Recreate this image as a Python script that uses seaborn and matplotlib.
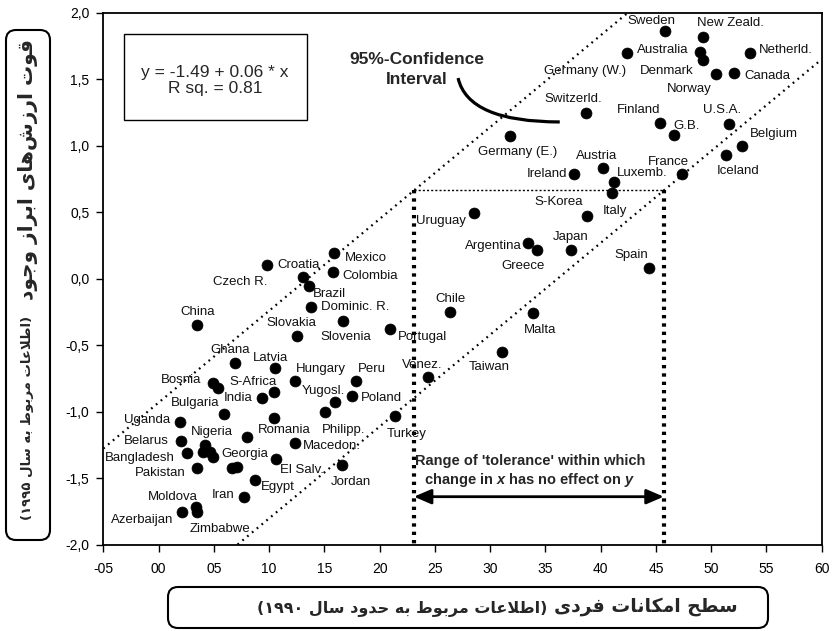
import re
import numpy as np
import pandas as pd
import matplotlib
matplotlib.use("Agg")
import matplotlib.pyplot as plt
import seaborn as sns
from matplotlib.patches import FancyBboxPatch, Rectangle, PathPatch
from matplotlib.path import Path

# ---------------- data ----------------
countries = ["Sweden", "New Zeald.", "Australia", "Germany (W.)", "Denmark", "Norway", "Canada",
             "Netherld.", "Switzerld.", "Finland", "G.B.", "U.S.A.", "Belgium", "Iceland", "France",
             "Germany (E.)", "Austria", "Ireland", "Luxemb.", "Italy", "S-Korea", "Uruguay",
             "Argentina", "Greece", "Japan", "Spain", "Chile", "Malta", "Taiwan", "Venez.",
             "Portugal", "Turkey", "Mexico", "Croatia", "Czech R.", "Colombia", "Brazil",
             "Dominic. R.", "China", "Slovakia", "Slovenia", "Ghana", "Latvia", "Hungary", "Peru",
             "Bosnia", "S-Africa", "Yugosl.", "India", "Poland", "Bulgaria", "Uganda", "Philipp.",
             "Romania", "Nigeria", "Georgia", "Belarus", "Macedon.", "Bangladesh", "Pakistan",
             "El Salv.", "Jordan", "Egypt", "Iran", "Azerbaijan", "Moldova", "Zimbabwe",
             "", "", "", "", "", ""]
x_values = [45.8, 49.3, 49.0, 42.4, 49.3, 50.4, 52.1,
            53.5, 38.7, 45.4, 46.6, 51.6, 52.8, 51.3, 47.4,
            31.8, 40.2, 37.6, 41.2, 41.0, 38.8, 28.5,
            33.4, 34.2, 37.3, 44.4, 26.4, 33.9, 31.1, 24.4,
            20.9, 21.4, 15.9, 9.8, 13.1, 15.8, 13.6,
            13.8, 3.5, 12.5, 16.7, 6.9, 10.5, 12.3, 17.9,
            4.95, 10.4, 16.0, 9.4, 17.5, 5.95, 1.94, 15.1,
            8.0, 4.2, 4.9, 2.0, 12.3, 2.55, 3.5,
            10.6, 16.6, 8.7, 7.7, 2.1, 3.4, 3.5,
            5.4, 10.4, 4.05, 4.66, 6.6, 7.1]
y_values = [1.86, 1.815, 1.707, 1.695, 1.645, 1.54, 1.545,
            1.695, 1.249, 1.174, 1.081, 1.164, 1.0, 0.931, 0.788,
            1.074, 0.835, 0.788, 0.73, 0.648, 0.473, 0.493,
            0.267, 0.217, 0.217, 0.08, -0.246, -0.258, -0.547, -0.735,
            -0.376, -1.028, 0.192, 0.104, 0.017, 0.054, -0.053,
            -0.213, -0.346, -0.429, -0.316, -0.63, -0.667, -0.765, -0.765,
            -0.78, -0.847, -0.923, -0.893, -0.88, -1.015, -1.073, -1.0,
            -1.186, -1.248, -1.34, -1.218, -1.235, -1.31, -1.423,
            -1.355, -1.398, -1.511, -1.636, -1.749, -1.711, -1.749,
            -0.822, -1.047, -1.298, -1.298, -1.423, -1.415]

x_ticks = [-5, 0, 5, 10, 15, 20, 25, 30, 35, 40, 45, 50, 55, 60]
x_tick_labels = ["-05", "00", "05", "10", "15", "20", "25", "30", "35", "40", "45", "50", "55", "60"]
y_ticks = [-2.0, -1.5, -1.0, -0.5, 0.0, 0.5, 1.0, 1.5, 2.0]
y_tick_labels = ["-2,0", "-1,5", "-1,0", "-0,5", "0,0", "0,5", "1,0", "1,5", "2,0"]

equation_text = "y = -1.49 + 0.06 * x\nR sq. = 0.81"
ci_text = "95%-Confidence\nInterval"
tolerance_text_1 = "Range of 'tolerance' within which"
tolerance_text_2 = "change in $x$ has no effect on $y$"
ci_slope = 0.069
ci_upper_intercept = -0.93
ci_lower_intercept = -2.49
tolerance_level = 0.664

y_title_main = "قوت ارزش\u200cهای ابراز وجود"
y_title_sub = "(اطلاعات مربوط به سال ۱۹۹۵)"
x_title_main = "سطح امکانات فردی"
x_title_sub = "(اطلاعات مربوط به حدود سال ۱۹۹۰)"

# label offsets (pixels, relative to the point)
label_offsets = {
    "Sweden": (-13, 10), "New Zeald.": (27, 14), "Australia": (-37, 2), "Germany (W.)": (-42, -18),
    "Denmark": (-37, -11), "Norway": (-26, -15), "Canada": (33, -3), "Netherld.": (36, 3),
    "Switzerld.": (-13, 14), "Finland": (-22, 13), "G.B.": (13, 9), "U.S.A.": (-7, 14),
    "Belgium": (32, 12), "Iceland": (13, -16), "France": (-14, 12), "Germany (E.)": (8, -16),
    "Austria": (-6, 12), "Ireland": (-27, 0), "Luxemb.": (28, 9), "Italy": (3, -18),
    "S-Korea": (-29, 14), "Uruguay": (-33, -8), "Argentina": (-34, -3), "Greece": (-13, -16),
    "Japan": (0, 13), "Spain": (-18, 13), "Chile": (0, 13), "Malta": (7, -17),
    "Taiwan": (-13, -15), "Venez.": (-6, 12), "Portugal": (33, -8), "Turkey": (12, -18),
    "Mexico": (32, -5), "Croatia": (32, 0), "Czech R.": (-63, -5), "Colombia": (37, -4),
    "Brazil": (21, -8), "Dominic. R.": (44, 0), "China": (0, 13), "Slovakia": (-5, 13),
    "Slovenia": (3, -16), "Ghana": (-5, 13), "Latvia": (-4, 10), "Hungary": (26, 12),
    "Peru": (15, 12), "Bosnia": (-32, 3), "S-Africa": (-20, 10), "Yugosl.": (-12, 11),
    "India": (-24, 0), "Poland": (29, -2), "Bulgaria": (-29, 11), "Uganda": (-33, 2),
    "Philipp.": (18, -18), "Romania": (37, 7), "Nigeria": (7, 13), "Georgia": (32, 3),
    "Belarus": (-34, 0), "Macedon.": (37, -3), "Bangladesh": (-47, -5), "Pakistan": (-37, -5),
    "El Salv.": (26, -11), "Jordan": (9, -17), "Egypt": (23, -7), "Iran": (-21, 2),
    "Azerbaijan": (-40, -8), "Moldova": (-23, 10), "Zimbabwe": (23, -17),
}

# ---------------- Persian shaping (matplotlib has no complex text layout) ----------------
FORMS = {
    '\u0627': ('\uFE8D', '\uFE8E', None, None),
    '\u0628': ('\uFE8F', '\uFE90', '\uFE91', '\uFE92'),
    '\u062A': ('\uFE95', '\uFE96', '\uFE97', '\uFE98'),
    '\u062C': ('\uFE9D', '\uFE9E', '\uFE9F', '\uFEA0'),
    '\u062D': ('\uFEA1', '\uFEA2', '\uFEA3', '\uFEA4'),
    '\u062F': ('\uFEA9', '\uFEAA', None, None),
    '\u0631': ('\uFEAD', '\uFEAE', None, None),
    '\u0632': ('\uFEAF', '\uFEB0', None, None),
    '\u0633': ('\uFEB1', '\uFEB2', '\uFEB3', '\uFEB4'),
    '\u0634': ('\uFEB5', '\uFEB6', '\uFEB7', '\uFEB8'),
    '\u0637': ('\uFEC1', '\uFEC2', '\uFEC3', '\uFEC4'),
    '\u0639': ('\uFEC9', '\uFECA', '\uFECB', '\uFECC'),
    '\u0641': ('\uFED1', '\uFED2', '\uFED3', '\uFED4'),
    '\u0642': ('\uFED5', '\uFED6', '\uFED7', '\uFED8'),
    '\u0644': ('\uFEDD', '\uFEDE', '\uFEDF', '\uFEE0'),
    '\u0645': ('\uFEE1', '\uFEE2', '\uFEE3', '\uFEE4'),
    '\u0646': ('\uFEE5', '\uFEE6', '\uFEE7', '\uFEE8'),
    '\u0647': ('\uFEE9', '\uFEEA', '\uFEEB', '\uFEEC'),
    '\u0648': ('\uFEED', '\uFEEE', None, None),
    '\u06CC': ('\uFBFC', '\uFBFD', '\uFBFE', '\uFBFF'),
    '\u06A9': ('\uFB8E', '\uFB8F', '\uFB90', '\uFB91'),
}


def shape_rtl(text):
    chars = list(text)
    n = len(chars)
    out = []

    def joins_next(c):
        return c in FORMS and FORMS[c][2] is not None

    i = 0
    while i < n:
        c = chars[i]
        if c == '\u200c':
            i += 1
            continue
        if c in FORMS:
            prev = chars[i - 1] if i > 0 else ''
            jp = joins_next(prev)
            if c == '\u0644' and i + 1 < n and chars[i + 1] == '\u0627':
                out.append('\uFEFC' if jp else '\uFEFB')
                i += 2
                continue
            nxt = chars[i + 1] if i + 1 < n else ''
            jn = joins_next(c) and nxt in FORMS
            iso, fin, ini, med = FORMS[c]
            if jp and jn:
                out.append(med)
            elif jp:
                out.append(fin)
            elif jn:
                out.append(ini)
            else:
                out.append(iso)
        else:
            out.append(c)
        i += 1
    s = ''.join(out)[::-1]
    s = re.sub(r'[0-9\u06F0-\u06F9]+', lambda m: m.group(0)[::-1], s)
    s = s.translate(str.maketrans('()', ')('))
    return s


# ---------------- style ----------------
sns.set_style("ticks")
plt.rcParams['font.family'] = ['Liberation Sans', 'DejaVu Sans']
plt.rcParams['mathtext.fontset'] = 'custom'
plt.rcParams['mathtext.it'] = 'Liberation Sans:italic:bold'
plt.rcParams['mathtext.rm'] = 'Liberation Sans:bold'

W, H = 832, 631
fig = plt.figure(figsize=(W / 100, H / 100), dpi=100)
fig.patch.set_facecolor('white')
ax_l, ax_r, ax_t, ax_b = 103.3, 821.7, 12.7, 545.0
ax = fig.add_axes([ax_l / W, (H - ax_b) / H, (ax_r - ax_l) / W, (ax_b - ax_t) / H])

df = pd.DataFrame({"country": countries, "x": x_values, "y": y_values})

# confidence lines
xs = np.array([-5.0, 60.0])
ax.plot(xs, ci_upper_intercept + ci_slope * xs, color='black', lw=1.6,
        linestyle=(0, (0.8, 2.0)), zorder=2)
ax.plot(xs, ci_lower_intercept + ci_slope * xs, color='black', lw=1.6,
        linestyle=(0, (0.8, 2.0)), zorder=2)

x_left = (tolerance_level - ci_upper_intercept) / ci_slope
x_right = (tolerance_level - ci_lower_intercept) / ci_slope
ax.plot([x_left, x_right], [tolerance_level, tolerance_level], color='black', lw=1.0,
        linestyle=(0, (1.5, 1.5)), zorder=2)
for xv in (x_left, x_right):
    ax.plot([xv, xv], [tolerance_level, -2.0], color='black', lw=3.0,
            linestyle=(0, (0.8, 1.2)), zorder=2, clip_on=False)

# points
sns.scatterplot(data=df, x="x", y="y", ax=ax, color='black', edgecolor='black',
                s=62, linewidth=0.5, legend=False, zorder=4)

for name, xv, yv in zip(countries, x_values, y_values):
    if not name:
        continue
    dx, dy = label_offsets[name]
    ax.annotate(name, (xv, yv), xytext=(dx, dy), textcoords='offset pixels',
                ha='center', va='center', fontsize=9.5, color='#111111', zorder=5)

# equation box
ax.add_patch(Rectangle((-3.1, 1.19), 16.5, 0.65, facecolor='white', edgecolor='black',
                       lw=1.0, zorder=3))
ax.text(5.1, 1.49, equation_text, ha='center', va='center', fontsize=12.5,
        linespacing=1.1, zorder=4)

# 95% confidence annotation
ax.text(23.4, 1.573, ci_text, ha='center', va='center', fontsize=12.5, fontweight='bold',
        linespacing=1.4, zorder=4)
curve = Path([(27.1, 1.509), (28.0, 1.179), (36.3, 1.179)],
             [Path.MOVETO, Path.CURVE3, Path.CURVE3])
ax.add_patch(PathPatch(curve, facecolor='none', edgecolor='black', lw=2.3, zorder=4))

# tolerance arrow and text
ax.annotate('', xy=(x_right, -1.637), xytext=(x_left, -1.637),
            arrowprops=dict(arrowstyle='<|-|>,head_length=0.7,head_width=0.3',
                            lw=2.0, color='black', mutation_scale=15,
                            shrinkA=0, shrinkB=0), zorder=4)
ax.text(33.6, -1.366, tolerance_text_1, ha='center', va='center', fontsize=10.5,
        fontweight='bold', zorder=4)
ax.text(33.6, -1.51, tolerance_text_2, ha='center', va='center', fontsize=10.5,
        fontweight='bold', zorder=4)

# axes
ax.set_xlim(-5, 60)
ax.set_ylim(-2, 2)
ax.set_xticks(x_ticks)
ax.set_xticklabels(x_tick_labels)
ax.set_yticks(y_ticks)
ax.set_yticklabels(y_tick_labels)
ax.set_xlabel('')
ax.set_ylabel('')
ax.tick_params(axis='x', direction='out', length=5, width=1, pad=7, labelsize=10,
               colors='black')
ax.tick_params(axis='y', direction='out', length=5, width=1, pad=5, labelsize=10,
               colors='black')
for sp in ax.spines.values():
    sp.set_visible(True)
    sp.set_linewidth(1.3)
    sp.set_color('black')

# axis title boxes (pixel -> inch coordinates)
def px_box(x0, y0, x1, y1, r):
    return FancyBboxPatch((x0 / 100, (H - y1) / 100), (x1 - x0) / 100, (y1 - y0) / 100,
                          boxstyle=f"round,pad=0,rounding_size={r / 100}",
                          transform=fig.dpi_scale_trans, facecolor='none',
                          edgecolor='black', lw=1.5)

fig.patches.append(px_box(6, 30, 50, 540, 10))
fig.patches.append(px_box(168, 587, 768, 628, 10))

fig.text(28 / W, 1 - 170 / H, shape_rtl(y_title_main), rotation=90, ha='center', va='center',
         fontsize=14.5, fontweight='bold', family=['DejaVu Sans'])
fig.text(28 / W, 1 - 418 / H, shape_rtl(y_title_sub), rotation=90, ha='center', va='center',
         fontsize=9.5, fontweight='bold', family=['DejaVu Sans'])

renderer = fig.canvas.get_renderer()
xt_main = fig.text(738 / W, 1 - 606 / H, shape_rtl(x_title_main), ha='right', va='center',
                   fontsize=13.5, fontweight='bold', family=['DejaVu Sans'])
main_left_px = xt_main.get_window_extent(renderer).x0
fig.text((main_left_px - 7) / W, 1 - 609 / H, shape_rtl(x_title_sub), ha='right', va='center',
         fontsize=11.5, fontweight='bold', family=['DejaVu Sans'])

fig.savefig("out.png", dpi=100, facecolor='white')
